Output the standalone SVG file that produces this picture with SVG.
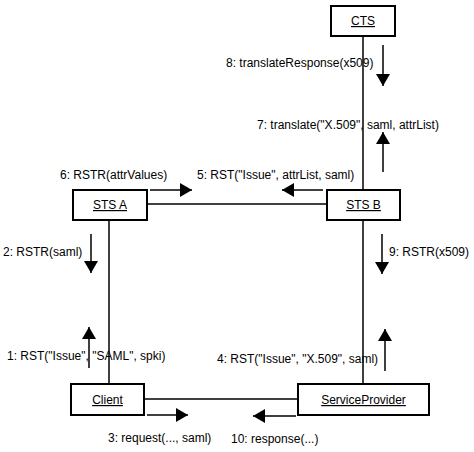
<svg xmlns="http://www.w3.org/2000/svg" width="474" height="452" viewBox="0 0 474 452">
<style>
text{font-family:"Liberation Sans",Arial,sans-serif;font-size:12px;fill:#000}
.n rect{fill:#fff;stroke:#000;stroke-width:2}
.n text{text-anchor:middle;text-decoration:underline}
.l{stroke:#000;stroke-width:1.5;fill:none}
.a{stroke:#000;stroke-width:1.5;fill:none;marker-end:url(#h)}
</style>
<defs>
<marker id="h" viewBox="0 0 12 14" refX="12" refY="7" markerWidth="12" markerHeight="14" markerUnits="userSpaceOnUse" orient="auto"><path d="M0,0L12,7L0,14Z" fill="#000"/></marker>
</defs>
<g id="connectors">
<line class="l" x1="363" y1="36" x2="363" y2="190"/>
<line class="l" x1="147" y1="204" x2="327" y2="204"/>
<line class="l" x1="109" y1="220" x2="109" y2="384"/>
<line class="l" x1="363" y1="220" x2="363" y2="384"/>
<line class="l" x1="144" y1="399" x2="298" y2="399"/>
<line class="a" x1="383" y1="45" x2="383" y2="86"/>
<line class="a" x1="383" y1="172" x2="383" y2="132"/>
<line class="a" x1="150" y1="190" x2="192" y2="190"/>
<line class="a" x1="323" y1="190" x2="282" y2="190"/>
<line class="a" x1="91" y1="234" x2="91" y2="273"/>
<line class="a" x1="382" y1="234" x2="382" y2="274"/>
<line class="a" x1="89" y1="368" x2="89" y2="327"/>
<line class="a" x1="385" y1="371" x2="385" y2="329"/>
<line class="a" x1="147" y1="415" x2="188" y2="415"/>
<line class="a" x1="296" y1="416" x2="253" y2="416"/>
<text x="226" y="67">8: translateResponse(x509)</text>
<text x="257" y="129">7: translate("X.509", saml, attrList)</text>
<text x="60" y="179">6: RSTR(attrValues)</text>
<text x="197" y="179">5: RST("Issue", attrList, saml)</text>
<text x="3" y="256">2: RSTR(saml)</text>
<text x="389" y="256">9: RSTR(x509)</text>
<text x="7" y="360">1: RST("Issue", "SAML", spki)</text>
<text x="217" y="363">4: RST("Issue", "X.509", saml)</text>
<text x="108" y="442">3: request(..., saml)</text>
<text x="231" y="443">10: response(...)</text>
</g>
<g id="CTS" class="n"><rect x="331" y="6" width="64" height="30"/><text x="363" y="25">CTS</text></g>
<g id="STSA" class="n"><rect x="73" y="190" width="74" height="30"/><text x="110" y="209">STS A</text></g>
<g id="STSB" class="n"><rect x="327" y="190" width="73" height="30"/><text x="363.5" y="209">STS B</text></g>
<g id="Client" class="n"><rect x="71" y="384" width="73" height="31"/><text x="107.5" y="404">Client</text></g>
<g id="ServiceProvider" class="n"><rect x="298" y="384" width="131" height="31"/><text x="363.5" y="404">ServiceProvider</text></g>
</svg>
